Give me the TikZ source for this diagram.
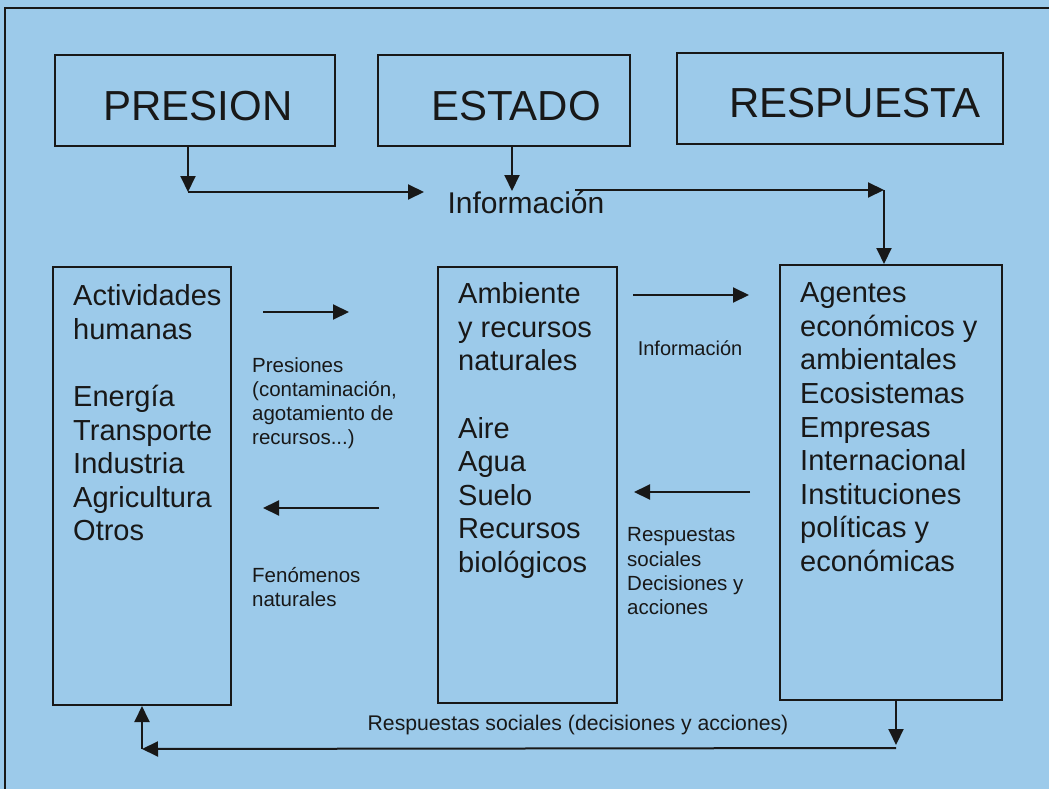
\documentclass[tikz,border=0pt]{standalone}
\usepackage{fontspec}
\setmainfont{Liberation Sans}
\usetikzlibrary{arrows.meta}
\definecolor{bg}{RGB}{156,202,234}
\definecolor{ink}{RGB}{24,24,24}
\begin{document}
\begin{tikzpicture}[x=1pt,y=-1pt,
  box/.style={draw=ink, line width=2pt, rectangle, inner sep=0pt},
  arr/.style={draw=ink, line width=2pt, -{Triangle[length=16pt,width=15pt]}},
  title/.style={font=\fontsize{42}{50}\selectfont, text=ink, anchor=base, inner sep=0pt},
  body/.style={font=\fontsize{29}{33.6}\selectfont, text=ink, align=left, anchor=north west, inner sep=0pt},
  small/.style={font=\fontsize{20.5}{24.3}\selectfont, text=ink, align=left, anchor=north west, inner sep=0pt},
]
\useasboundingbox (0,0) rectangle (1049,789);
\fill[bg] (0,0) rectangle (1049,789);
\draw[ink, line width=2pt] (5,789) -- (5,8) -- (1049,8);

% top boxes
\node[box, minimum width=280pt, minimum height=91pt] (pres) at (195,100.5) {};
\node[box, minimum width=252pt, minimum height=91pt] (est) at (504,100.5) {};
\node[box, minimum width=326pt, minimum height=91pt] (resp) at (840,98.5) {};
\node[title] (presT) at (198,121) {PRESION};
\node[title] (estT) at (516,121) {ESTADO};
\node[title] (respT) at (855,118) {RESPUESTA};

\node[font=\fontsize{30}{34}\selectfont, text=ink, anchor=base, inner sep=0pt] (info) at (526,213) {Información};

% lower boxes
\node[box, minimum width=178pt, minimum height=438pt] (lbox) at (142,486) {};
\node[box, minimum width=179pt, minimum height=436pt] (mbox) at (527.5,485) {};
\node[box, minimum width=222pt, minimum height=435pt] (rbox) at (891,482.5) {};

\node[body] (ltext) at (73,284.5) {Actividades\\humanas\\[33.6pt]Energía\\Transporte\\Industria\\Agricultura\\Otros};
\node[body] (mtext) at (458,282.5) {Ambiente\\y recursos\\naturales\\[33.6pt]Aire\\Agua\\Suelo\\Recursos\\biológicos};
\node[body] (rtext) at (800,282.5) {Agentes\\económicos y\\ambientales\\Ecosistemas\\Empresas\\Internacional\\Instituciones\\políticas y\\económicas};

\node[small] (presiones) at (252,357) {Presiones\\(contaminación,\\agotamiento de\\recursos...)};
\node[small] (fenom) at (252,567) {Fenómenos\\naturales};
\node[small, font=\fontsize{20}{24}\selectfont, anchor=base] (info2) at (690,355) {Información};
\node[small] (respsoc) at (627,527.5) {Respuestas\\sociales\\Decisiones y\\acciones};
\node[small, font=\fontsize{21.2}{25}\selectfont, anchor=base] (bottomlbl) at (578,730) {Respuestas sociales (decisiones y acciones)};

% top connectors
\coordinate (c1) at (188,192);
\coordinate (c2) at (424,192);
\coordinate (c3) at (512,191);
\coordinate (c4) at (575,190);
\coordinate (c5) at (884,190);
\draw[arr] (pres.south -| c1) -- (c1);
\draw[arr] (c1) -- (c2);
\draw[arr] (est.south -| c3) -- (c3);
\draw[arr] (c4) -- (c5);
\draw[arr] (c5) -- (c5 |- rbox.north);

% middle connectors
\draw[arr, shorten <=31pt, shorten >=88pt] (lbox.east |- 0,312) -- (mbox.west |- 0,312);
\draw[arr, shorten <=58pt, shorten >=31pt] (mbox.west |- 0,508) -- (lbox.east |- 0,508);
\draw[arr, shorten <=15pt, shorten >=30pt] (mbox.east |- 0,295) -- (rbox.west |- 0,295);
\draw[arr, shorten <=29pt, shorten >=16pt] (rbox.west |- 0,492) -- (mbox.east |- 0,492);

% bottom connectors
\coordinate (c6) at (896,748);
\coordinate (c7) at (142,749);
\draw[arr] (rbox.south -| c6) -- ([yshift=3pt]c6);
\draw[arr] (c6) -- (c7);
\draw[arr] (c7) -- (c7 |- lbox.south);
\end{tikzpicture}
\end{document}
